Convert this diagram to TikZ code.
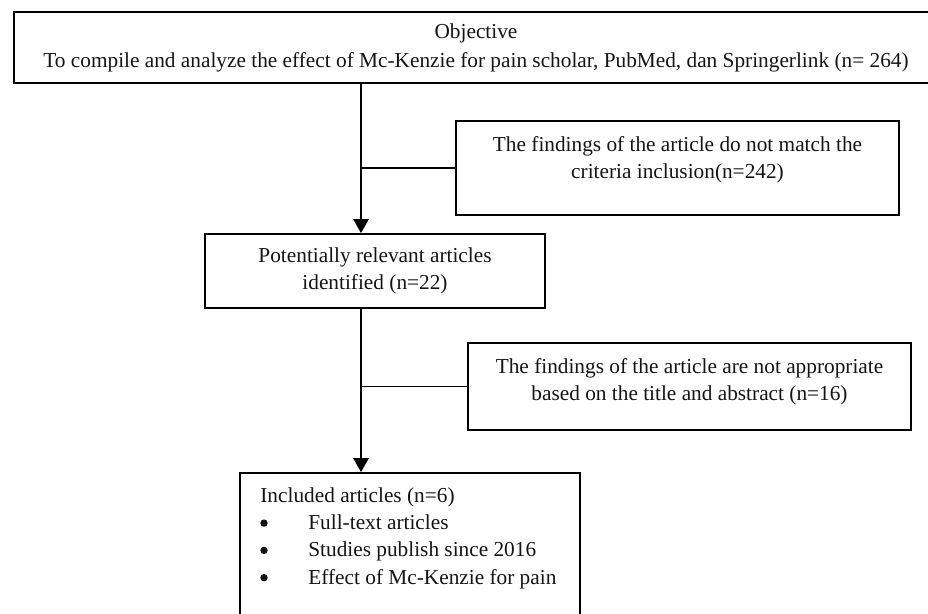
\documentclass[tikz,border=0pt]{standalone}
\usepackage{fontspec}
\setmainfont{Liberation Serif}
\usetikzlibrary{arrows.meta, positioning}
\definecolor{linecolor}{RGB}{0, 0, 0}
\definecolor{textcolor}{RGB}{20, 20, 20}
\newcommand{\bulletgap}{\hspace*{48pt}}
\tikzset{
    font=\fontsize{21.3}{27.3}\selectfont,
    box/.style = {
        rectangle, draw=linecolor, line width=1.6pt, inner sep=0pt
    },
    boxtext/.style = {
        align=center, inner sep=0pt, text=textcolor
    },
    dot/.style = {fill=textcolor},
    arrow/.style = {-{Triangle[length=14pt,width=15pt]}, line width=2.6pt, draw=linecolor},
    link/.style = {line width=1.2pt, draw=linecolor}
}

\begin{document}
\begin{tikzpicture}[x=1pt, y=-1pt]
\useasboundingbox (0,0) rectangle (928,613);
% Nodes
\node[box, boxtext, minimum width=924pt, minimum height=71pt] (objective) at (476,47.5) {Objective\\[1.7pt]
To compile and analyze the effect of Mc-Kenzie for pain scholar, PubMed, dan Springerlink (n= 264)};
\node[box, minimum width=443pt, minimum height=94pt] (nomatch) at (677.5,168) {};
\node[boxtext, below=16pt of nomatch.north] (nomatchtext) {The findings of the article do not match the\\
criteria inclusion(n=242)};
\node[box, boxtext, minimum width=340pt, minimum height=74pt] (relevant) at (375,271) {Potentially relevant articles\\
identified (n=22)};
\node[box, minimum width=443pt, minimum height=87pt] (notfit) at (689.5,386.5) {};
\node[boxtext, below=16pt of notfit.north] (notfittext) {The findings of the article are not appropriate\\
based on the title and abstract (n=16)};
\node[box, minimum width=340pt, minimum height=167pt] (included) at (410,556.5) {};
\node[boxtext, align=left, below right=15pt and 21pt of included.north west] (includedtext) {Included articles (n=6)\\
\bulletgap Full-text articles\\
\bulletgap Studies publish since 2016\\
\bulletgap Effect of Mc-Kenzie for pain};
% Bullets
\fill[dot] (264,523.1) circle (3.7pt);
\fill[dot] (264,550.4) circle (3.7pt);
\fill[dot] (264,577.7) circle (3.7pt);
% Arrows
\coordinate (trunk) at (361,0);
\draw[arrow] (objective.south -| trunk) -- (relevant.north -| trunk);
\draw[arrow] (relevant.south -| trunk) -- (included.north -| trunk);
\draw[link] (nomatch.west -| trunk) -- (nomatch.west);
\draw[link] (notfit.west -| trunk) -- (notfit.west);
\end{tikzpicture}
\end{document}
